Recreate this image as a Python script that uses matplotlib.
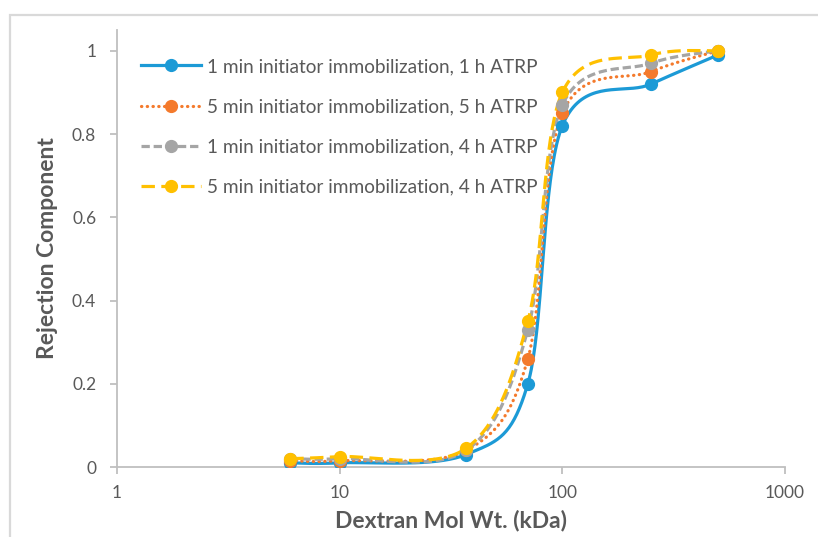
import numpy as np
import matplotlib.pyplot as plt
from matplotlib.patches import Rectangle
from matplotlib.ticker import FixedLocator, NullLocator

plt.rcParams['font.family'] = ['Lato', 'DejaVu Sans']

##########################data############################
mol_wt = [6, 10, 37, 70, 100, 250, 500]
rej_1min_1h = [0.01, 0.01, 0.03, 0.20, 0.82, 0.92, 0.99]
rej_5min_5h = [0.015, 0.015, 0.04, 0.26, 0.85, 0.95, 1.0]
rej_1min_4h = [0.02, 0.02, 0.04, 0.33, 0.87, 0.97, 1.0]
rej_5min_4h = [0.02, 0.025, 0.045, 0.35, 0.90, 0.99, 1.0]
labels = ['1 min initiator immobilization, 1 h ATRP',
          '5 min initiator immobilization, 5 h ATRP',
          '1 min initiator immobilization, 4 h ATRP',
          '5 min initiator immobilization, 4 h ATRP']
x_ticks = [1, 10, 100, 1000]
y_ticks = [0, 0.2, 0.4, 0.6, 0.8, 1]


##########################functions############################
def smooth(xs, ys, sx=223.0, sy=416.0, n=40):
    # excel style smoothed line: bezier segments, catmull-rom control points
    px = np.log10(xs) * sx
    py = np.asarray(ys) * sy
    pts = np.column_stack([px, py])
    pad = np.vstack([pts[0], pts, pts[-1]])
    out = []
    t = np.linspace(0, 1, n)[:, None]
    for i in range(len(pts) - 1):
        p0, p3 = pad[i + 1], pad[i + 2]
        p1 = p0 + (pad[i + 2] - pad[i]) / 6
        p2 = p3 - (pad[i + 3] - pad[i + 1]) / 6
        seg = ((1 - t) ** 3) * p0 + 3 * ((1 - t) ** 2) * t * p1 + 3 * (1 - t) * t ** 2 * p2 + t ** 3 * p3
        out.append(seg if i == 0 else seg[1:])
    out = np.vstack(out)
    return 10 ** (out[:, 0] / sx), out[:, 1] / sy


########################plotting##############################
fig = plt.figure(figsize=(8.18, 5.37), dpi=100)
ax = fig.add_axes([117 / 818, 70 / 537, 668 / 818, 437 / 537])

# outer chart frame (cropped at right/bottom)
fig.patches.append(Rectangle((10 / 818, -0.2), 1.2, 0.2 + 522 / 537, transform=fig.transFigure,
                             fill=False, edgecolor='#D9D9D9', lw=1.6))

styles = [
    dict(color='#1C9AD6', ls='-'),
    dict(color='#F47A2C', ls=(0, (0.1, 1.7)), dash_capstyle='round'),
    dict(color='#A5A5A5', ls=(0, (2.6, 1.2))),
    dict(color='#FFC000', ls=(0, (4.2, 2.0))),
]
series = [rej_1min_1h, rej_5min_5h, rej_1min_4h, rej_5min_4h]

for ys, st, lab in zip(series, styles, labels):
    sx_, sy_ = smooth(mol_wt, ys)
    ax.plot(sx_, sy_, lw=2.3, zorder=2, **st)
    ax.plot(mol_wt, ys, 'o', color=st['color'], ms=8.5, zorder=3)
    # legend proxy
    ax.plot([], [], lw=2.3, marker='o', ms=8.5, label=lab, **st)

ax.set_xscale('log')
ax.set_xlim(1, 1000)
ax.set_ylim(0, 1.05)
ax.xaxis.set_major_locator(FixedLocator(x_ticks))
ax.xaxis.set_minor_locator(NullLocator())
ax.set_xticklabels([str(v) for v in x_ticks])
ax.set_yticks(y_ticks)
ax.set_yticklabels(['0', '0.2', '0.4', '0.6', '0.8', '1'])

for s in ['top', 'right']:
    ax.spines[s].set_visible(False)
for s in ['left', 'bottom']:
    ax.spines[s].set_color('#BFBFBF')
    ax.spines[s].set_linewidth(1.3)
ax.tick_params(axis='both', colors='#BFBFBF', labelcolor='#595959', labelsize=12.5,
               length=5, width=1.3, direction='out')
ax.tick_params(axis='x', pad=8)
ax.tick_params(axis='y', pad=10)

ax.set_xlabel('Dextran Mol Wt. (kDa)', fontsize=16.5, fontweight='bold', color='#595959', labelpad=6)
ax.set_ylabel('Rejection Component', fontsize=16.5, fontweight='bold', color='#595959', labelpad=10)

leg = ax.legend(loc='upper left', bbox_to_anchor=(0.011, 0.975), frameon=False, fontsize=13.7,
                handlelength=3.15, labelspacing=1.22, handletextpad=0.3, labelcolor='#595959')

fig.savefig('out.png', dpi=100)
